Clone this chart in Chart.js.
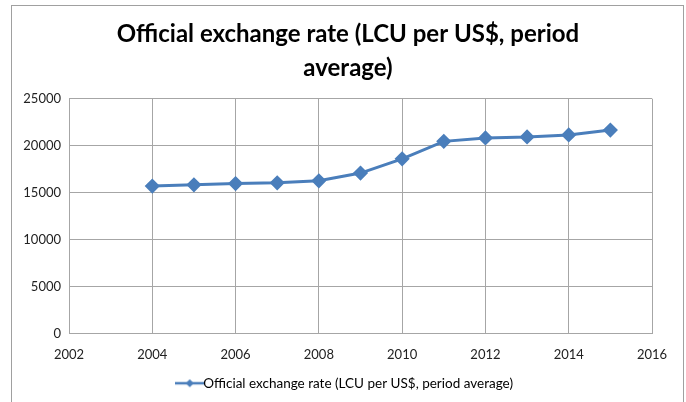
<!DOCTYPE html>
<html>
<head>
<meta charset="utf-8">
<script src="https://cdn.jsdelivr.net/npm/chart.js@4/dist/chart.umd.min.js"></script>
<style>
  html, body { margin: 0; padding: 0; background: #fff; }
  #wrap { width: 686px; height: 402px; }
</style>
</head>
<body>
<div id="wrap"><canvas id="c" width="686" height="402"></canvas></div>
<script>
// Official exchange rate, local currency units per US$ (period average)
const years = [2004, 2005, 2006, 2007, 2008, 2009, 2010, 2011, 2012, 2013, 2014, 2015];
const rates = [15700, 15830, 15970, 16050, 16260, 17080, 18600, 20460, 20820, 20930, 21140, 21660];
const xTicks = [2002, 2004, 2006, 2008, 2010, 2012, 2014, 2016];
const yTicks = [0, 5000, 10000, 15000, 20000, 25000];

const titleLines = ['Official exchange rate (LCU per US$, period', 'average)'];
const seriesName = 'Official exchange rate (LCU per US$, period average)';

const BLUE = '#4a7ebb';
const GRID = '#a6a6a6';
const FONT = 'Lato, "Open Sans", sans-serif';

// legend swatch: short line with a diamond in the middle
function legendSwatch() {
  const cv = document.createElement('canvas');
  cv.width = 30; cv.height = 12;
  const g = cv.getContext('2d');
  g.strokeStyle = BLUE; g.lineWidth = 2.5;
  g.beginPath(); g.moveTo(0, 6); g.lineTo(30, 6); g.stroke();
  g.fillStyle = BLUE;
  g.beginPath(); g.moveTo(15, 2); g.lineTo(19, 6); g.lineTo(15, 10); g.lineTo(11, 6); g.closePath(); g.fill();
  return cv;
}

// thin frame around the whole chart
const frame = {
  id: 'frame',
  beforeDraw(chart) {
    const ctx = chart.ctx;
    ctx.save();
    ctx.strokeStyle = '#a0a0a0';
    ctx.lineWidth = 1;
    ctx.strokeRect(11.5, 5.5, 672, 420);
    ctx.restore();
  }
};

new Chart(document.getElementById('c'), {
  type: 'line',
  data: {
    datasets: [{
      label: seriesName,
      data: years.map((y, i) => ({ x: y, y: rates[i] })),
      borderColor: BLUE,
      backgroundColor: BLUE,
      borderWidth: 3,
      pointStyle: 'rectRot',
      pointRadius: 5.5,
      pointHoverRadius: 5.5,
      tension: 0
    }]
  },
  options: {
    responsive: false,
    animation: false,
    layout: { padding: { left: 10, right: 0, top: 0, bottom: 2 } },
    plugins: {
      title: {
        display: true,
        text: titleLines,
        color: '#000',
        font: { family: FONT, size: 24, weight: 'bold', lineHeight: 1.39 },
        padding: { top: 18, bottom: 14 }
      },
      legend: {
        position: 'bottom',
        labels: {
          color: '#222',
          font: { family: FONT, size: 13.5 },
          usePointStyle: true,
          generateLabels(chart) {
            return [{
              text: seriesName,
              pointStyle: legendSwatch(),
              fillStyle: BLUE,
              strokeStyle: BLUE,
              lineWidth: 0,
              datasetIndex: 0
            }];
          },
          padding: 8
        }
      },
      tooltip: { enabled: false }
    },
    scales: {
      x: {
        type: 'linear',
        min: 2002,
        max: 2016,
        afterBuildTicks(scale) { scale.ticks = xTicks.map(v => ({ value: v })); },
        afterFit(scale) { scale.height = 35; },
        ticks: {
          color: '#222',
          font: { family: FONT, size: 13 },
          maxRotation: 0,
          padding: 14,
          callback: v => String(v)
        },
        grid: { color: GRID, drawTicks: false, lineWidth: 1 },
        border: { color: GRID }
      },
      y: {
        min: 0,
        max: 25000,
        afterBuildTicks(scale) { scale.ticks = yTicks.map(v => ({ value: v })); },
        afterFit(scale) { scale.width = 59; },
        ticks: {
          color: '#222',
          font: { family: FONT, size: 13 },
          padding: 8,
          callback: v => String(v)
        },
        grid: { color: GRID, drawTicks: false, lineWidth: 1 },
        border: { color: GRID }
      },
      // empty right-hand margin axis
      yRight: {
        position: 'right',
        display: true,
        afterFit(scale) { scale.width = 34; },
        ticks: { display: false },
        grid: { display: false, drawTicks: false },
        border: { display: false }
      }
    }
  },
  plugins: [frame]
});
</script>
</body>
</html>
